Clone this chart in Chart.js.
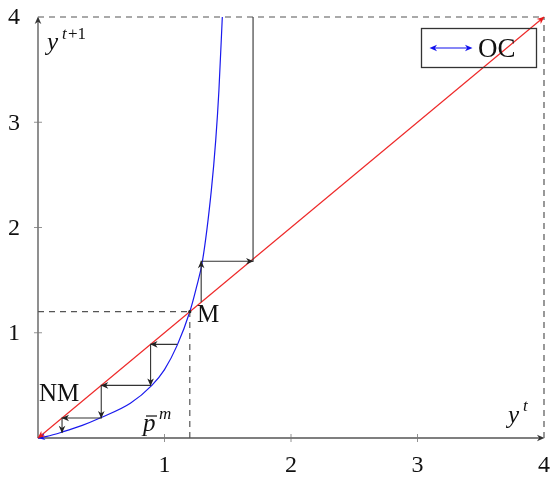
<!DOCTYPE html>
<html>
<head>
<meta charset="utf-8">
<script src="https://cdn.jsdelivr.net/npm/chart.js@4"></script>
<style>
html,body{margin:0;padding:0;background:#fff;}
#wrap{width:555px;height:479px;}
</style>
</head>
<body>
<div id="wrap"><canvas id="c" width="555" height="479"></canvas></div>
<script>
// ---- data ----
const tickValues = [1, 2, 3, 4];
const tickLabels = ['1', '2', '3', '4'];
const diagX = [0, 4];
const diagY = [0, 4];
const curveX = [0, 0.07, 0.2, 0.35, 0.49, 0.73, 0.9, 1.0, 1.1, 1.2, 1.25, 1.3, 1.37, 1.405, 1.43, 1.457];
const curveY = [0, 0.015, 0.06, 0.12, 0.19, 0.33, 0.5, 0.65, 0.88, 1.2, 1.42, 1.68, 2.35, 2.83, 3.3, 4.0];
const webLowX = [1.1, 0.89, 0.89, 0.5, 0.5, 0.19, 0.19];
const webLowY = [0.89, 0.89, 0.5, 0.5, 0.19, 0.19, 0.05];
const webHighX = [1.29, 1.29, 1.70, 1.70];
const webHighY = [1.29, 1.68, 1.68, 4.0];
const fixedPoint = 1.2;
const axisMax = 4;

const pts = (xs, ys) => xs.map((x, i) => ({x: x, y: ys[i]}));
const serif = '"Liberation Serif", "DejaVu Serif", serif';

function arrowHead(ctx, x1, y1, x2, y2, color) {
  const a = Math.atan2(y2 - y1, x2 - x1);
  const L = 7, W = 3.3;
  ctx.save();
  ctx.translate(x2, y2);
  ctx.rotate(a);
  ctx.fillStyle = color;
  ctx.beginPath();
  ctx.moveTo(0.5, 0);
  ctx.lineTo(-L, -W);
  ctx.lineTo(-L + 2.2, 0);
  ctx.lineTo(-L, W);
  ctx.closePath();
  ctx.fill();
  ctx.restore();
}

const decor = {
  id: 'decor',
  beforeDatasetsDraw(chart) {
    const ctx = chart.ctx, xs = chart.scales.x, ys = chart.scales.y;
    const X = v => xs.getPixelForValue(v), Y = v => ys.getPixelForValue(v);
    ctx.save();
    ctx.strokeStyle = '#555';
    ctx.lineWidth = 1.3;
    ctx.beginPath();
    ctx.moveTo(X(0), Y(0)); ctx.lineTo(X(axisMax) - 2, Y(0));
    ctx.moveTo(X(0), Y(0)); ctx.lineTo(X(0), Y(axisMax) + 2);
    ctx.stroke();
    arrowHead(ctx, X(0), Y(0), X(axisMax), Y(0), '#333');
    arrowHead(ctx, X(0), Y(0), X(0), Y(axisMax), '#333');
    ctx.lineWidth = 0.8;
    ctx.strokeStyle = '#777';
    ctx.beginPath();
    tickValues.forEach(v => {
      if (v < axisMax) {
        ctx.moveTo(X(v), Y(0) - 4); ctx.lineTo(X(v), Y(0) + 4);
        ctx.moveTo(X(0) - 4, Y(v)); ctx.lineTo(X(0) + 4, Y(v));
      }
    });
    ctx.stroke();
    // tick labels
    ctx.fillStyle = '#111';
    ctx.font = '24px ' + serif;
    ctx.textBaseline = 'middle';
    ctx.textAlign = 'center';
    tickValues.forEach((v, i) => ctx.fillText(tickLabels[i], X(v), Y(0) + 28));
    ctx.textAlign = 'right';
    tickValues.forEach((v, i) => ctx.fillText(tickLabels[i], 20, Y(v) + 1));
    ctx.restore();
  },
  afterDatasetsDraw(chart) {
    const ctx = chart.ctx, xs = chart.scales.x, ys = chart.scales.y;
    const X = v => xs.getPixelForValue(v), Y = v => ys.getPixelForValue(v);
    ctx.save();
    for (let i = 1; i < webLowX.length; i++) {
      arrowHead(ctx, X(webLowX[i-1]), Y(webLowY[i-1]), X(webLowX[i]), Y(webLowY[i]), '#222');
    }
    for (let i = 1; i < webHighX.length - 1; i++) {
      arrowHead(ctx, X(webHighX[i-1]), Y(webHighY[i-1]), X(webHighX[i]), Y(webHighY[i]), '#222');
    }
    arrowHead(ctx, X(curveX[1]), Y(curveY[1]), X(curveX[0]), Y(curveY[0]), '#1010ee');
    arrowHead(ctx, X(diagX[1]), Y(diagY[1]), X(diagX[0]), Y(diagY[0]), '#e81818');
    arrowHead(ctx, X(diagX[0]), Y(diagY[0]), X(diagX[1]), Y(diagY[1]), '#e81818');
    ctx.fillStyle = '#222';
    ctx.beginPath(); ctx.arc(X(fixedPoint), Y(fixedPoint), 1.6, 0, Math.PI*2); ctx.fill();

    ctx.fillStyle = '#111';
    ctx.textBaseline = 'alphabetic';
    ctx.textAlign = 'left';
    ctx.font = 'italic 25px ' + serif;
    ctx.fillText('y', 47, 50);
    ctx.font = 'italic 17px ' + serif;
    ctx.fillText('t', 62, 39);
    ctx.font = '17px ' + serif;
    ctx.fillText('+1', 68, 39);

    ctx.font = 'italic 25px ' + serif;
    ctx.fillText('y', 508, 423);
    ctx.font = 'italic 17px ' + serif;
    ctx.fillText('t', 523, 411);

    ctx.font = 'italic 25px ' + serif;
    ctx.fillText('p', 143, 431);
    ctx.strokeStyle = '#111'; ctx.lineWidth = 1.2;
    ctx.beginPath(); ctx.moveTo(146, 416); ctx.lineTo(157, 416); ctx.stroke();
    ctx.font = 'italic 17px ' + serif;
    ctx.fillText('m', 159, 419);

    ctx.font = '25px ' + serif;
    ctx.fillText('NM', 39, 401);
    ctx.fillText('M', 197, 322);

    ctx.strokeStyle = '#333'; ctx.lineWidth = 1.3;
    ctx.strokeRect(421.5, 28.5, 115, 39);
    ctx.strokeStyle = '#1010ee'; ctx.lineWidth = 1.2;
    ctx.beginPath(); ctx.moveTo(432, 48); ctx.lineTo(470, 48); ctx.stroke();
    arrowHead(ctx, 450, 48, 430, 48, '#1010ee');
    arrowHead(ctx, 450, 48, 472, 48, '#1010ee');
    ctx.fillStyle = '#111';
    ctx.font = '27px ' + serif;
    ctx.fillText('OC', 478, 57);
    ctx.restore();
  }
};

const lineDS = (data, color, extra) => Object.assign({
  data: data, showLine: true, borderColor: color, borderWidth: 1.2,
  pointRadius: 0, fill: false, clip: false
}, extra || {});

const dashStyle = {borderDash: [6, 5], borderWidth: 1.2};

new Chart(document.getElementById('c'), {
  type: 'scatter',
  data: {
    datasets: [
      lineDS(pts([0, axisMax], [axisMax, axisMax]), '#555', dashStyle),
      lineDS(pts([axisMax, axisMax], [0, axisMax]), '#555', dashStyle),
      lineDS(pts([0, fixedPoint], [fixedPoint, fixedPoint]), '#555', dashStyle),
      lineDS(pts([fixedPoint, fixedPoint], [0, fixedPoint]), '#555', dashStyle),
      lineDS(pts(webLowX, webLowY), '#333', {borderWidth: 1.1}),
      lineDS(pts(webHighX, webHighY), '#333', {borderWidth: 1.1}),
      lineDS(pts(diagX, diagY), '#ee2a2a'),
      lineDS(pts(curveX, curveY), '#1a1aee', {cubicInterpolationMode: 'monotone'})
    ]
  },
  options: {
    responsive: false,
    animation: false,
    layout: {padding: {top: 17, right: 11, left: 0, bottom: 0}},
    plugins: {legend: {display: false}, tooltip: {enabled: false}},
    scales: {
      x: {
        type: 'linear', min: 0, max: axisMax,
        grid: {display: false, drawTicks: false},
        border: {display: false},
        ticks: {display: false, stepSize: 1},
        afterFit: s => { s.height = 41; }
      },
      y: {
        type: 'linear', min: 0, max: axisMax,
        grid: {display: false, drawTicks: false},
        border: {display: false},
        ticks: {display: false, stepSize: 1},
        afterFit: s => { s.width = 38; }
      }
    }
  },
  plugins: [decor]
});
</script>
</body>
</html>
